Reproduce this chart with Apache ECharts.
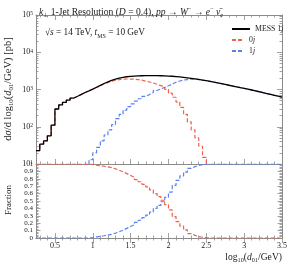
<!DOCTYPE html>
<html><head><meta charset="utf-8">
<script src="https://cdn.jsdelivr.net/npm/echarts@6/dist/echarts.min.js"></script>
<style>html,body{margin:0;padding:0;background:#fff}#c{width:291px;height:263px}</style>
</head><body><div id="c"></div>
<script>
// ---- data ----
const binLow = [0.25,0.30,0.35,0.40,0.45,0.50,0.55,0.60,0.65,0.70,0.75,0.80,0.85,0.90,0.95,
  1.00,1.05,1.10,1.15,1.20,1.25,1.30,1.35,1.40,1.45,1.50,1.55,1.60,1.65,1.70,1.75,1.80,1.85,1.90,1.95,
  2.00,2.05,2.10,2.15,2.20,2.25,2.30,2.35,2.40,2.45,2.50,2.55,2.60,2.65,2.70,2.75,2.80,2.85,2.90,2.95,
  3.00,3.05,3.10,3.15,3.20,3.25,3.30,3.35,3.40,3.45];
const xEnd = 3.5;
const mess1j = [23,34,42,57,110,300,385,450,520,590,660,740,830,920,1020,
  1150,1290,1450,1600,1760,1900,2020,2120,2200,2260,2300,2330,2340,2350,2360,2360,2350,2340,2320,2300,
  2270,2230,2180,2120,2060,2000,1930,1860,1790,1720,1650,1580,1510,1440,1370,1300,1240,1180,1120,1070,
  1020,970,920,870,820,780,740,700,660,620];
const jet0 = [23,34,42,57,110,300,385,450,520,590,660,740,830,920,1015,
  1130,1260,1405,1535,1670,1775,1850,1900,1915,1910,1885,1840,1780,1680,1590,1490,1380,1270,1150,1010,
  800,620,460,330,215,135,82,50,30,15,0,0,0,0,0,0,0,0,0,0,
  0,0,0,0,0,0,0,0,0,0];
const jet1 = [0,0,0,0,0,0,0,0,0,0,0,0,0,0,13,
  20,28,42,60,82,115,165,215,280,345,410,490,565,650,735,830,940,1040,1140,1260,
  1400,1560,1690,1790,1850,1900,1900,1850,1780,1715,1650,1580,1510,1440,1370,1300,1240,1180,1120,1070,
  1020,970,920,870,820,780,740,700,660,620];
const frac0 = [1,1,1,1,1,1,1,1,1,1,1,1,1,1,0.995,
  0.985,0.978,0.97,0.96,0.95,0.935,0.915,0.895,0.87,0.845,0.82,0.79,0.76,0.725,0.69,0.65,0.60,0.56,0.51,0.45,
  0.38,0.29,0.22,0.16,0.11,0.06,0.035,0.02,0.01,0.004,0,0,0,0,0,0,0,0,0,0,
  0,0,0,0,0,0,0,0,0,0];
const frac1 = [0,0,0,0,0,0,0,0,0,0,0,0,0,0,0.005,
  0.015,0.022,0.03,0.04,0.05,0.065,0.085,0.105,0.13,0.155,0.18,0.21,0.24,0.275,0.31,0.35,0.40,0.44,0.49,0.55,
  0.62,0.71,0.78,0.84,0.89,0.94,0.965,0.98,0.99,0.996,1,1,1,1,1,1,1,1,1,1,
  1,1,1,1,1,1,1,1,1,1];
const xTickLabels = [0.5,1,1.5,2,2.5,3,3.5];
const logTickLabels = [10,100,1000,10000,100000];
const fracTickLabels = [0,0.1,0.2,0.3,0.4,0.5,0.6,0.7,0.8,0.9,1];

// ---- helpers ----
const FONT = 'Liberation Serif';
const TXT = '#222';
const AX = '#8a8a8a';
const RED = '#f0604c';
const BLUE = '#5a80f0';
const xMin = binLow[0];

const xMinor = [];
for (let k = 3; k <= 34; k++) { const v = k / 10; if (k % 5 !== 0) xMinor.push(+v.toFixed(2)); }
const logMinor = [];
for (let d = 10; d < 100000; d *= 10) for (let m = 2; m <= 9; m++) logMinor.push(d * m);
const fracMinor = [];
for (let k = 1; k < 50; k++) if (k % 5 !== 0) fracMinor.push(+(k / 50).toFixed(2));

function hist(vals, floor) {
  const pts = binLow.map((x, i) => [x, (floor && vals[i] <= 0) ? floor : vals[i]]);
  const last = vals[vals.length - 1];
  pts.push([xEnd, (floor && last <= 0) ? floor : last]);
  return pts;
}

function mkRich(fs) {
  return {
    i: {fontFamily: FONT, fontStyle: 'italic', fontSize: fs, color: TXT},
    sub: {fontFamily: FONT, fontSize: fs * 0.65, verticalAlign: 'bottom', color: TXT},
    isub: {fontFamily: FONT, fontStyle: 'italic', fontSize: fs * 0.65, verticalAlign: 'bottom', color: TXT},
    sup: {fontFamily: FONT, fontSize: fs * 0.65, verticalAlign: 'top', color: TXT}
  };
}

function xAxis(grid, pos, major, showLine, showLabel) {
  return {
    type: 'value', gridIndex: grid, position: pos, min: xMin, max: xEnd,
    axisLine: {show: showLine, lineStyle: {color: AX, width: 1}},
    axisTick: {show: true, inside: true, length: major ? 5 : 2.5, customValues: major ? xTickLabels : xMinor,
      lineStyle: {color: AX, width: 0.8}},
    axisLabel: {show: showLabel, customValues: xTickLabels, margin: 4, fontFamily: FONT, fontSize: 8, color: TXT,
      interval: 0, showMinLabel: true, showMaxLabel: true, hideOverlap: false, formatter: v => String(v)},
    splitLine: {show: false}
  };
}
function yLog(grid, pos, major, showLine, showLabel) {
  return {
    type: 'log', logBase: 10, gridIndex: grid, position: pos, min: 10, max: 100000,
    axisLine: {show: showLine, lineStyle: {color: AX, width: 1}},
    axisTick: {show: true, inside: true, length: major ? 5 : 2.5, customValues: major ? logTickLabels : logMinor,
      lineStyle: {color: AX, width: 0.8}},
    axisLabel: {show: showLabel, customValues: logTickLabels, margin: 3, fontFamily: FONT, fontSize: 8, color: TXT,
      interval: 0, showMinLabel: true, showMaxLabel: true, hideOverlap: false,
      formatter: v => '10{e|' + Math.round(Math.log10(v)) + '}',
      rich: {e: {fontFamily: FONT, fontSize: 5.5, verticalAlign: 'top', color: TXT}}},
    splitLine: {show: false}
  };
}
function yFrac(grid, pos, major, showLine, showLabel) {
  return {
    type: 'value', gridIndex: grid, position: pos, min: 0, max: 1,
    axisLine: {show: showLine, lineStyle: {color: AX, width: 1}},
    axisTick: {show: true, inside: true, length: major ? 4.5 : 2.5, customValues: major ? fracTickLabels : fracMinor,
      lineStyle: {color: AX, width: 0.8}},
    axisLabel: {show: showLabel, customValues: fracTickLabels, margin: 3, fontFamily: FONT, fontSize: 7, color: TXT,
      interval: 0, showMinLabel: true, showMaxLabel: true, hideOverlap: false, formatter: v => String(v)},
    splitLine: {show: false}
  };
}

function legendFor(name, label, top, w) {
  return {
    data: [name], left: 231, top: top, itemWidth: w, itemHeight: 8, itemGap: 0, padding: 0,
    itemStyle: {opacity: 0, borderWidth: 0},
    formatter: () => label,
    textStyle: {fontFamily: FONT, fontSize: 7.8, color: TXT, padding: [0, 0, 0, 0], rich: mkRich(7.8)}
  };
}

const dash = [4, 2];
const chart = echarts.init(document.getElementById('c'), null, {renderer: 'canvas'});
chart.setOption({
  animation: false,
  backgroundColor: '#fff',
  title: {
    left: 34, top: 1,
    text: '{i|k}{sub|⊥} 1-Jet Resolution ({i|D} = 0.4), {i|pp} → {i|W}{sup|−} → {i|e}{sup|−} {i|ν̄}{isub|e}',
    textStyle: {fontFamily: FONT, fontSize: 9.6, fontWeight: 'normal', color: TXT, lineHeight: 12, rich: mkRich(9.6)}
  },
  grid: [
    {left: 36, right: 9, top: 15, height: 149},
    {left: 36, right: 9, top: 164, height: 74}
  ],
  xAxis: [
    xAxis(0, 'bottom', true, true, false), xAxis(0, 'bottom', false, false, false),
    xAxis(0, 'top', true, true, false), xAxis(0, 'top', false, false, false),
    xAxis(1, 'bottom', true, true, true), xAxis(1, 'bottom', false, false, false),
    xAxis(1, 'top', true, true, false), xAxis(1, 'top', false, false, false)
  ],
  yAxis: [
    yLog(0, 'left', true, true, true), yLog(0, 'left', false, false, false),
    yLog(0, 'right', true, true, false), yLog(0, 'right', false, false, false),
    yFrac(1, 'left', true, true, true), yFrac(1, 'left', false, false, false),
    yFrac(1, 'right', true, true, false), yFrac(1, 'right', false, false, false)
  ],
  legend: [
    legendFor('MESS 1j', 'MESS 1{i|j}', 25, 18),
    legendFor('0j', '0{i|j}', 36, 12),
    legendFor('1j', '1{i|j}', 47, 12)
  ],
  graphic: [
    {type: 'text', left: 45, top: 27, style: {
      text: '√{i|s} = 14 TeV, {i|t}{sub|MS} = 10 GeV', fontFamily: FONT, fontSize: 9.3, fill: TXT, lineHeight: 12, rich: mkRich(9.3)}},
    {type: 'text', x: 8.5, y: 89, rotation: Math.PI / 2, style: {
      text: 'd{i|σ}/d log{sub|10}({i|d}{sub|01}/GeV) [pb]', fontFamily: FONT, fontSize: 10.5, fill: TXT,
      lineHeight: 12, align: 'center', verticalAlign: 'middle', textAlign: 'center', textVerticalAlign: 'middle', rich: mkRich(10.5)}},
    {type: 'text', x: 8.5, y: 200, rotation: Math.PI / 2, style: {
      text: 'Fraction', fontFamily: FONT, fontSize: 9, fill: TXT,
      align: 'center', verticalAlign: 'middle', textAlign: 'center', textVerticalAlign: 'middle'}},
    {type: 'text', x: 282, y: 257, style: {
      text: 'log{sub|10}({i|d}{sub|01}/GeV)', fontFamily: FONT, fontSize: 9.6, fill: TXT, lineHeight: 12,
      align: 'right', verticalAlign: 'middle', textAlign: 'right', textVerticalAlign: 'middle', rich: mkRich(9.6)}}
  ],
  series: [
    {name: '0j', type: 'line', xAxisIndex: 0, yAxisIndex: 0, step: 'end', showSymbol: false, symbol: 'none', z: 3,
      data: hist(jet0, 1), lineStyle: {color: RED, width: 1.2, type: dash}, itemStyle: {color: RED}},
    {name: '1j', type: 'line', xAxisIndex: 0, yAxisIndex: 0, step: 'end', showSymbol: false, symbol: 'none', z: 3,
      data: hist(jet1, 1), lineStyle: {color: BLUE, width: 1.2, type: dash}, itemStyle: {color: BLUE}},
    {name: 'MESS 1j', type: 'line', xAxisIndex: 0, yAxisIndex: 0, step: 'end', showSymbol: false, symbol: 'none', z: 4,
      data: hist(mess1j, 0), lineStyle: {color: '#000', width: 1.3}, itemStyle: {color: '#000'}},
    {name: '0j', type: 'line', xAxisIndex: 4, yAxisIndex: 4, step: 'end', showSymbol: false, symbol: 'none', z: 3,
      data: hist(frac0, 0), lineStyle: {color: RED, width: 1.2, type: dash}, itemStyle: {color: RED}},
    {name: '1j', type: 'line', xAxisIndex: 4, yAxisIndex: 4, step: 'end', showSymbol: false, symbol: 'none', z: 3,
      data: hist(frac1, 0), lineStyle: {color: BLUE, width: 1.2, type: dash}, itemStyle: {color: BLUE}}
  ]
});
</script></body></html>
